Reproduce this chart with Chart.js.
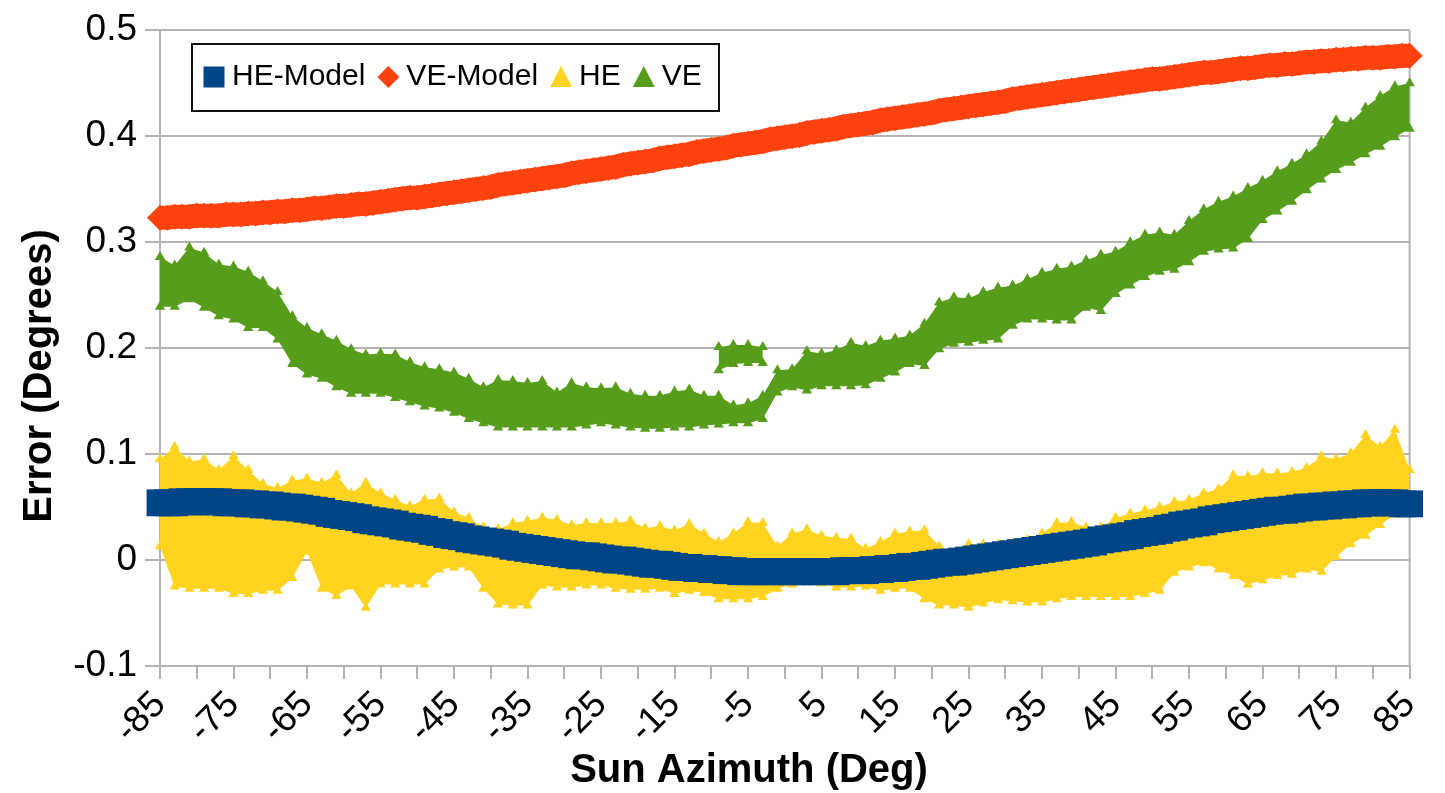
<!DOCTYPE html>
<html>
<head>
<meta charset="utf-8">
<script src="https://cdn.jsdelivr.net/npm/chart.js@4/dist/chart.umd.min.js"></script>
<style>
html,body{margin:0;padding:0;background:#fff;}
#wrap{width:1445px;height:793px;position:relative;}
</style>
</head>
<body>
<div id="wrap"><canvas id="c" width="1445" height="793"></canvas></div>
<script>
// ---- Data ----
const azimuth = [
 -85,-84,-83,-82,-81,-80,
 -79,-78,-77,-76,-75,-74,-73,-72,-71,-70,
 -69,-68,-67,-66,-65,-64,-63,-62,-61,-60,
 -59,-58,-57,-56,-55,-54,-53,-52,-51,-50,
 -49,-48,-47,-46,-45,-44,-43,-42,-41,-40,
 -39,-38,-37,-36,-35,-34,-33,-32,-31,-30,
 -29,-28,-27,-26,-25,-24,-23,-22,-21,-20,
 -19,-18,-17,-16,-15,-14,-13,-12,-11,-10,
 -9,-8,-7,-6,-5,-4,-3,-2,-1,0,
 1,2,3,4,5,6,7,8,9,10,
 11,12,13,14,15,16,17,18,19,20,
 21,22,23,24,25,26,27,28,29,30,
 31,32,33,34,35,36,37,38,39,40,
 41,42,43,44,45,46,47,48,49,50,
 51,52,53,54,55,56,57,58,59,60,
 61,62,63,64,65,66,67,68,69,70,
 71,72,73,74,75,76,77,78,79,80,
 81,82,83,84,85
];

const heModel = [
 0.054,0.054,0.054,0.055,0.055,0.055,
 0.055,0.055,0.055,0.054,0.054,
 0.054,0.053,0.053,0.052,0.052,
 0.051,0.050,0.050,0.049,0.048,
 0.047,0.046,0.044,0.043,0.042,
 0.041,0.040,0.038,0.037,0.036,
 0.035,0.034,0.032,0.031,0.030,
 0.029,0.027,0.026,0.024,0.023,
 0.022,0.020,0.019,0.018,0.017,
 0.016,0.015,0.013,0.012,0.011,
 0.010,0.009,0.008,0.007,0.006,
 0.005,0.004,0.004,0.003,0.002,
 0.001,0.000,0.000,-0.001,-0.002,
 -0.003,-0.004,-0.004,-0.005,-0.006,
 -0.007,-0.007,-0.008,-0.008,-0.009,
 -0.009,-0.010,-0.010,-0.011,-0.011,
 -0.011,-0.011,-0.011,-0.011,-0.011,
 -0.011,-0.011,-0.011,-0.011,-0.011,
 -0.011,-0.011,-0.010,-0.010,-0.010,
 -0.010,-0.009,-0.009,-0.008,-0.008,
 -0.007,-0.006,-0.006,-0.005,-0.004,
 -0.003,-0.002,-0.002,-0.001,0.000,
 0.001,0.002,0.003,0.004,0.005,
 0.006,0.007,0.008,0.009,0.010,
 0.011,0.012,0.013,0.014,0.015,
 0.016,0.017,0.019,0.020,0.021,
 0.022,0.023,0.025,0.026,0.027,
 0.028,0.030,0.031,0.033,0.034,
 0.035,0.036,0.038,0.039,0.040,
 0.041,0.042,0.043,0.044,0.045,
 0.046,0.047,0.047,0.048,0.049,
 0.050,0.050,0.051,0.051,0.052,
 0.052,0.053,0.053,0.054,0.054,
 0.054,0.054,0.054,0.053,0.053
];

const veModel = [
 0.323,0.323,0.324,0.324,0.324,0.325,0.325,0.325,0.325,0.326,0.326,
 0.326,0.327,0.327,0.328,0.328,0.329,0.329,0.330,0.330,0.331,
 0.332,0.332,0.333,0.334,0.334,0.335,0.336,0.336,0.337,0.338,
 0.339,0.340,0.341,0.342,0.342,0.343,0.344,0.345,0.346,0.347,
 0.348,0.349,0.350,0.351,0.352,0.354,0.355,0.356,0.357,0.358,
 0.359,0.360,0.361,0.362,0.363,0.365,0.366,0.367,0.368,0.369,
 0.370,0.371,0.373,0.374,0.375,0.376,0.377,0.379,0.380,0.381,
 0.382,0.383,0.385,0.386,0.387,0.388,0.389,0.391,0.392,0.393,
 0.394,0.395,0.397,0.398,0.399,0.400,0.401,0.403,0.404,0.405,
 0.406,0.407,0.409,0.410,0.411,0.412,0.413,0.415,0.416,0.417,
 0.418,0.419,0.420,0.421,0.422,0.424,0.425,0.426,0.427,0.428,
 0.429,0.430,0.431,0.432,0.433,0.435,0.436,0.437,0.438,0.439,
 0.440,0.441,0.442,0.443,0.444,0.445,0.446,0.447,0.448,0.449,
 0.450,0.451,0.452,0.453,0.454,0.454,0.455,0.456,0.457,0.458,
 0.459,0.460,0.460,0.461,0.462,0.463,0.464,0.464,0.465,0.466,
 0.467,0.467,0.468,0.468,0.469,0.470,0.470,0.471,0.471,0.472,
 0.472,0.473,0.473,0.474,0.474,0.474,0.475,0.475,0.476,0.476
];

// measured samples (every 2 deg): lower and upper edge of the scattered clouds
const sampleAzimuth = [
 -85,-83,-81,-79,-77,-75,-73,-71,-69,-67,
 -65,-63,-61,-59,-57,-55,-53,-51,-49,-47,
 -45,-43,-41,-39,-37,-35,-33,-31,-29,-27,
 -25,-23,-21,-19,-17,-15,-13,-11,-9,-7,
 -5,-3,-1,1,3,5,7,9,11,13,
 15,17,19,21,23,25,27,29,31,33,
 35,37,39,41,43,45,47,49,51,53,
 55,57,59,61,63,65,67,69,71,73,
 75,77,79,81,83,85
];

const heLow = [
 0.013,-0.025,-0.027,-0.027,-0.027,-0.032,-0.032,-0.029,-0.029,-0.017,
 0.008,-0.027,-0.034,-0.025,-0.045,-0.023,-0.023,-0.023,-0.023,-0.009,
 -0.007,-0.007,-0.027,-0.042,-0.043,-0.043,-0.024,-0.026,-0.026,-0.024,
 -0.024,-0.027,-0.028,-0.028,-0.027,-0.032,-0.029,-0.031,-0.037,-0.037,
 -0.037,-0.035,-0.027,-0.023,-0.021,-0.022,-0.026,-0.026,-0.025,-0.029,
 -0.027,-0.027,-0.037,-0.043,-0.043,-0.045,-0.041,-0.038,-0.039,-0.040,
 -0.040,-0.037,-0.035,-0.035,-0.035,-0.035,-0.035,-0.032,-0.029,-0.012,
 -0.007,-0.003,-0.009,-0.015,-0.023,-0.019,-0.015,-0.014,-0.009,-0.011,
 0.003,0.015,0.023,0.033,0.043,0.048
];
const heHigh = [
 0.095,0.107,0.093,0.095,0.085,0.098,0.085,0.072,0.068,0.075,
 0.077,0.073,0.080,0.063,0.073,0.063,0.057,0.051,0.057,0.058,
 0.045,0.040,0.031,0.029,0.035,0.037,0.040,0.038,0.033,0.035,
 0.035,0.035,0.037,0.030,0.032,0.028,0.034,0.025,0.017,0.025,
 0.036,0.035,0.013,0.025,0.029,0.023,0.021,0.020,0.011,0.017,
 0.025,0.027,0.028,0.013,0.007,0.015,0.015,0.015,0.016,0.019,
 0.025,0.035,0.036,0.031,0.031,0.040,0.044,0.047,0.050,0.055,
 0.057,0.063,0.067,0.080,0.079,0.082,0.082,0.083,0.087,0.098,
 0.095,0.101,0.118,0.107,0.123,0.085
];

const veLow = [
 0.239,0.239,0.246,0.238,0.230,0.227,0.219,0.219,0.208,0.185,
 0.175,0.171,0.163,0.157,0.157,0.157,0.153,0.149,0.145,0.143,
 0.139,0.133,0.129,0.125,0.125,0.125,0.125,0.125,0.125,0.127,
 0.129,0.127,0.125,0.124,0.124,0.125,0.125,0.127,0.128,0.129,
 0.129,0.133,0.158,0.163,0.160,0.164,0.164,0.164,0.165,0.171,
 0.177,0.185,0.183,0.199,0.204,0.205,0.207,0.208,0.221,0.227,
 0.227,0.226,0.226,0.238,0.235,0.251,0.259,0.267,0.272,0.274,
 0.281,0.291,0.293,0.294,0.303,0.321,0.329,0.338,0.349,0.359,
 0.368,0.375,0.383,0.390,0.399,0.407
];
const veHigh = [
 0.286,0.278,0.295,0.290,0.279,0.277,0.272,0.263,0.253,0.230,
 0.219,0.213,0.207,0.199,0.194,0.195,0.194,0.187,0.182,0.180,
 0.177,0.171,0.163,0.170,0.169,0.167,0.169,0.158,0.167,0.163,
 0.162,0.163,0.157,0.155,0.155,0.159,0.161,0.155,0.155,0.146,
 0.148,0.155,0.179,0.180,0.197,0.195,0.198,0.205,0.202,0.207,
 0.209,0.212,0.223,0.243,0.248,0.247,0.253,0.257,0.259,0.265,
 0.271,0.275,0.277,0.283,0.288,0.291,0.300,0.307,0.309,0.307,
 0.320,0.331,0.338,0.343,0.351,0.358,0.367,0.374,0.383,0.395,
 0.415,0.413,0.427,0.438,0.447,0.450
];

// separate upper branch of VE near -9..-3 deg
const veBranchAzimuth = [-9,-7,-5,-3];
const veBranchLow  = [0.179,0.185,0.186,0.186];
const veBranchHigh = [0.201,0.203,0.203,0.201];

// ---- Styling ----
const FONT = '"Liberation Sans", Arial, Helvetica, sans-serif';
const COL = { heModel:'#004586', veModel:'#ff420e', he:'#ffd320', ve:'#579d1c', grid:'#b3b3b3' };
const pts = (xs, ys) => xs.map((x, i) => ({ x: x, y: ys[i] }));

function modelSet(label, ys, color, style, radius, lineWidth) {
  return { type:'line', label, data: pts(azimuth, ys),
    showLine: lineWidth > 0, borderWidth: lineWidth, tension:0,
    borderCapStyle:'butt', borderJoinStyle:'round',
    pointStyle: style, pointRadius: radius, pointHoverRadius: radius,
    pointBackgroundColor: color, pointBorderColor: color, pointBorderWidth: 0,
    backgroundColor: color, borderColor: color, fill:false, clip:false };
}
function cloudSet(label, xs, ys, color, fill) {
  return { type:'line', label, data: pts(xs, ys), showLine:true, tension:0,
    borderWidth:0, borderColor:'rgba(0,0,0,0)', backgroundColor: color,
    pointStyle:'triangle', pointRadius:6, pointHoverRadius:6,
    pointBackgroundColor: color, pointBorderColor: color, pointBorderWidth:0,
    fill: fill, clip:false };
}

const legendItems = [
  { text:'HE-Model', style:'rect', color: COL.heModel },
  { text:'VE-Model', style:'diamond', color: COL.veModel },
  { text:'HE', style:'triangle', color: COL.he },
  { text:'VE', style:'triangle', color: COL.ve }
];

function drawMarker(ctx, style, cx, cy, color) {
  ctx.fillStyle = color;
  ctx.beginPath();
  if (style === 'rect') {
    ctx.rect(cx - 10.5, cy - 10.5, 21, 21);
  } else if (style === 'diamond') {
    ctx.moveTo(cx, cy - 11); ctx.lineTo(cx + 11, cy); ctx.lineTo(cx, cy + 11); ctx.lineTo(cx - 11, cy);
  } else {
    ctx.moveTo(cx, cy - 11); ctx.lineTo(cx + 11, cy + 10); ctx.lineTo(cx - 11, cy + 10);
  }
  ctx.closePath();
  ctx.fill();
}

const framePlugin = {
  id:'frame',
  beforeDatasetsDraw(chart) {
    const { ctx, chartArea: a } = chart;
    ctx.save();
    ctx.strokeStyle = COL.grid; ctx.lineWidth = 2;
    ctx.beginPath(); ctx.moveTo(a.right, a.top); ctx.lineTo(a.right, a.bottom); ctx.stroke();
    ctx.restore();
  }
};

const overlayPlugin = {
  id:'overlay',
  afterDraw(chart) {
    const ctx = chart.ctx;
    ctx.save();
    // legend box
    ctx.fillStyle = '#fff';
    ctx.fillRect(192, 44, 527, 67);
    ctx.strokeStyle = '#111'; ctx.lineWidth = 2;
    ctx.strokeRect(192, 44, 527, 67);
    ctx.font = '30px ' + FONT;
    ctx.textBaseline = 'middle'; ctx.textAlign = 'left';
    let x = 203; const cy = 77;
    legendItems.forEach(it => {
      drawMarker(ctx, it.style, x + 11, cy, it.color);
      x += 22 + 7;
      ctx.fillStyle = '#000';
      ctx.fillText(it.text, x, cy);
      x += ctx.measureText(it.text).width + 12;
    });
    // axis titles
    ctx.fillStyle = '#000';
    ctx.font = 'bold 40px ' + FONT;
    ctx.textAlign = 'center'; ctx.textBaseline = 'middle';
    ctx.fillText('Sun Azimuth (Deg)', 749, 771);
    ctx.translate(40, 376);
    ctx.rotate(-Math.PI / 2);
    ctx.fillText('Error (Degrees)', 0, 0);
    ctx.restore();
  }
};

new Chart(document.getElementById('c'), {
  type:'line',
  data: {
    datasets: [
      modelSet('HE-Model', heModel, COL.heModel, 'rect', 19, 0),
      modelSet('VE-Model', veModel, COL.veModel, 'rectRot', 13, 24),
      cloudSet('HE low', sampleAzimuth, heLow, COL.he, false),
      cloudSet('HE', sampleAzimuth, heHigh, COL.he, '-1'),
      cloudSet('VE low', sampleAzimuth, veLow, COL.ve, false),
      cloudSet('VE', sampleAzimuth, veHigh, COL.ve, '-1'),
      cloudSet('VE branch low', veBranchAzimuth, veBranchLow, COL.ve, false),
      cloudSet('VE branch', veBranchAzimuth, veBranchHigh, COL.ve, '-1')
    ]
  },
  options: {
    responsive:false, animation:false, devicePixelRatio:1, events:[],
    layout: { padding: { top:25, right:32, left:0, bottom:0 } },
    plugins: { legend:{ display:false }, tooltip:{ enabled:false }, filler:{ propagate:false } },
    scales: {
      x: {
        type:'linear', min:-85, max:85,
        ticks: { stepSize:5, autoSkip:false, maxRotation:45, minRotation:45, padding:4,
          color:'#000', font:{ size:37, family:FONT },
          callback: v => { const r = Math.round(v); return ((r + 85) % 10 === 0) ? String(r) : ''; } },
        grid: { drawOnChartArea:false, drawTicks:true, tickLength:13, color:COL.grid, lineWidth:2 },
        border: { display:true, color:COL.grid, width:2 },
        afterFit: s => { s.height = 127; }
      },
      y: {
        type:'linear', min:-0.1, max:0.5,
        ticks: { stepSize:0.1, padding:8, color:'#000', font:{ size:37, family:FONT },
          callback: v => String(Math.round(v * 10) / 10) },
        grid: { color:COL.grid, lineWidth:2, tickLength:15 },
        border: { display:true, color:COL.grid, width:2 },
        afterFit: s => { s.width = 160; }
      }
    }
  },
  plugins: [framePlugin, overlayPlugin]
});
</script>
</body>
</html>
